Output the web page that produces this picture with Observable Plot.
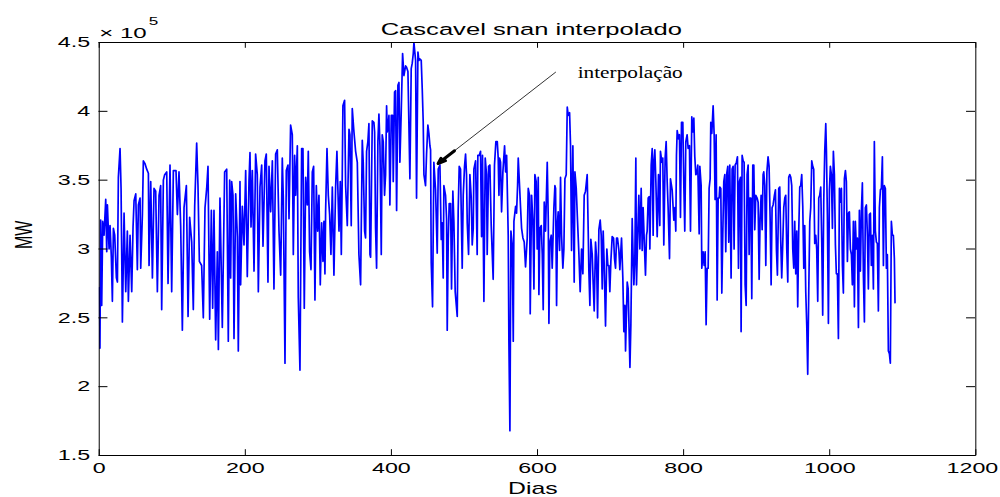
<!DOCTYPE html>
<html><head><meta charset="utf-8">
<script src="https://cdn.jsdelivr.net/npm/d3@7"></script>
<script src="https://cdn.jsdelivr.net/npm/@observablehq/plot@0.6"></script>
<style>
html,body{margin:0;padding:0;background:#fff;}
#chart svg path, #chart svg line, #chart svg rect { vector-effect: non-scaling-stroke; }
</style></head><body><div id="chart"></div>
<script>
const titulo = "Cascavel snan interpolado";
const rotuloX = "Dias";
const rotuloY = "MW";
const expoente = ["× 10", "5"];
const xTicks = [0, 200, 400, 600, 800, 1000, 1200];
const yTicks = [1.5, 2, 2.5, 3, 3.5, 4, 4.5];

// [dia, MW x 10^5]
const trecho1 = [[0.5,2.72],[1,2.28],[2,3.21],[3.4,2.59],[4.8,3.20],[6.6,3.10],[8.9,3.36],[10.3,2.98],[11.2,3.32],[13.5,3.00],[14.8,3.17],[16.6,2.94],[18.0,2.62],[19.4,3.15],[21.2,3.10],[23.5,2.79],[24.9,2.76],[26.2,3.52],[28.5,3.73],[29.9,3.44],[31.7,2.47],[34.0,3.26],[36.3,2.69],[38.5,3.13],[39.9,2.62],[42.2,3.10],[44.5,2.69],[46.3,3.16],[47.7,3.35],[50.0,3.40],[52.2,2.85],[53.6,3.32],[55.9,3.37],[56.8,2.86],[59.1,3.25],[60.4,3.64],[62.7,3.62],[65.0,3.58],[67.3,3.55],[68.2,2.88],[70.5,3.49],[72.8,2.79],[75.0,3.44],[77.3,3.42],[79.6,2.69],[81.9,3.39],[84.1,3.46],[85.5,2.56],[87.8,3.50],[89.6,3.54],[92.4,3.56],[94.2,2.75],[96.9,3.61],[99.2,2.69],[101.5,3.57],[105.1,3.57],[107.0,3.25],[109.2,3.56],[111.5,3.17],[113.8,2.41],[116.1,3.30],[119.3,3.46],[121.6,2.51],[123.8,3.23],[126.6,3.05],[128.8,2.56],[130.7,3.31],[133.4,3.77],[135.2,3.46],[137.1,2.91],[140.2,2.88],[142.5,2.50],[144.8,3.30],[147.1,3.44],[148.9,3.60],[151.2,2.49],[153.5,3.28],[155.3,2.57],[157.1,3.28],[159.4,2.34],[161.7,2.98],[163.1,2.27],[165.3,3.37],[168.5,2.43],[171.7,3.56],[174.5,3.58]];
const trecho2 = [[176.7,2.33],[178.6,3.50],[179.9,2.79],[181.3,3.49],[183.1,3.39],[184.5,2.35],[186.8,3.40],[189.1,3.09],[190.4,2.26],[192.7,3.49],[193.6,2.74],[195.9,3.31],[198.2,3.03],[200.5,3.57],[202.7,2.80],[205.0,3.49],[206.4,3.70],[207.8,3.16],[209.6,3.57],[211.9,2.84],[214.1,3.69],[216.4,3.54],[217.8,2.69],[220.1,3.45],[222.4,3.61],[224.2,3.02],[226.9,3.64],[228.7,3.69],[231.0,2.76],[232.4,3.60],[234.7,3.27],[237.0,3.64],[239.2,2.71],[241.5,3.69],[243.8,3.72],[246.1,3.13],[248.4,2.81],[250.6,3.66],[252.0,3.37],[254.3,2.17],[256.1,3.57],[258.4,3.61],[259.8,3.22],[262.0,3.90],[264.3,3.83],[265.7,2.96],[267.5,3.68],[268.9,3.39],[271.2,3.75],[272.5,2.65],[274.8,2.12],[277.1,3.73],[278.9,3.73],[280.7,2.57],[282.6,3.52],[284.8,3.32],[286.2,3.71],[288.0,2.98],[289.9,2.85],[291.7,3.56],[293.5,3.60],[295.3,2.63],[297.2,3.46],[299.0,3.13],[300.8,3.39],[302.6,2.74],[304.5,3.19],[306.3,2.91],[307.6,3.20],[309.0,2.82],[309.9,3.27],[311.8,3.73],[313.6,3.39],[315.4,3.25],[317.2,2.96],[319.1,3.45],[321.3,2.81],[323.6,3.45],[325.4,3.71],[328.2,3.13],[330.0,3.49],[331.4,2.96],[332.7,3.54],[333.6,4.04],[335.9,4.08],[337.3,3.46],[339.6,3.17],[341.9,3.87],[343.2,3.83],[345.0,3.17],[346.4,4.02],[348.7,3.85],[351.0,3.71],[353.3,3.63],[355.5,2.96],[357.8,2.74]];
const trecho3 = [[360.1,3.79],[361.4,3.63],[363.3,3.13],[364.6,3.08],[366.0,3.71],[367.8,3.78],[369.2,3.91],[370.6,2.96],[371.5,2.94],[373.8,3.93],[376.0,3.92],[377.0,3.85],[378.3,3.15],[379.7,2.86],[381.5,3.78],[382.9,3.98],[384.3,3.75],[386.1,2.96],[387.4,3.83],[388.8,3.78],[390.6,3.39],[392.0,3.54],[393.4,4.04],[394.3,3.85],[395.7,3.90],[396.6,3.97],[397.9,3.32],[399.8,3.97],[401.6,3.97],[402.5,3.49],[404.3,4.14],[405.7,4.15],[407.1,3.28],[408.9,4.19],[410.3,4.21],[411.6,3.63],[413.4,3.99],[415.3,4.42],[417.1,4.26],[419.4,4.33],[420.7,4.32],[422.6,4.29],[425.3,3.51],[427.1,4.31],[428.5,4.35],[429.9,4.42],[430.8,4.50],[433.1,4.37],[434.4,3.37],[436.3,4.43],[437.6,4.37],[439.0,4.38],[440.8,4.37],[442.2,4.16],[443.5,3.93],[444.5,3.54],[446.7,3.46],[448.1,3.69],[449.9,3.90],[451.3,3.84],[452.7,3.75],[453.6,3.72],[454.5,2.90],[456.3,2.58],[458.1,3.63],[460.4,3.43],[462.7,2.97],[464.1,3.58],[466.4,3.61],[468.2,3.07],[469.5,3.19],[470.9,2.79],[471.8,3.46],[474.1,3.39],[475.5,3.22],[476.4,2.41],[477.8,3.07],[479.1,3.33],[481.0,3.33],[482.3,2.71],[484.1,3.42],[485.5,3.20],[487.3,2.69],[490.1,2.51],[491.4,3.28],[492.8,3.60],[494.6,3.58],[496.9,2.86],[498.3,3.39],[500.1,3.60],[501.5,3.69],[502.8,3.54],[503.8,3.19],[505.6,2.96],[507.4,3.54],[509.2,3.38],[510.6,3.03],[512.0,3.15],[512.9,3.58],[515.2,3.64],[517.4,2.96],[518.3,3.68],[520.2,3.68],[522.0,3.71],[523.4,3.09],[524.7,3.68],[526.6,2.62],[528.4,3.66],[530.2,3.54],[531.1,2.96],[533.0,3.60],[534.8,3.61],[536.6,3.17],[539.3,2.78],[541.1,3.61],[543.0,3.78]];
const trecho4 = [[544.9,3.78],[546.2,3.66],[547.2,3.39],[548.1,3.66],[549.4,3.63],[550.8,3.27],[552.6,3.56],[554.9,3.75],[556.3,3.56],[557.7,3.68],[559.9,3.10],[560.8,2.34],[562.2,1.68],[563.6,3.13],[565.4,3.03],[566.8,2.33],[567.7,3.20],[570.0,3.31],[571.3,3.26],[572.7,3.46],[573.6,3.66],[575.4,3.46],[576.8,3.30],[578.2,3.15],[580.0,3.08],[581.8,3.05],[583.6,2.87],[585.9,3.08],[587.3,3.44],[589.1,3.39],[590.0,2.53],[591.9,3.39],[593.7,3.20],[595.1,2.71],[596.4,3.54],[598.2,3.49],[599.6,3.00],[601.0,3.52],[601.9,2.67],[603.3,3.15],[605.1,3.17],[606.5,2.96],[607.8,2.56],[609.2,3.34],[611.0,3.13],[613.3,3.63],[614.7,3.22],[615.6,2.46],[616.9,3.05],[618.8,3.10],[620.1,2.86],[622.4,3.30],[623.8,3.46],[624.7,3.44],[626.1,2.59],[627.4,3.20],[628.3,3.27],[630.2,2.99],[631.5,3.52],[632.9,3.10],[634.7,2.86],[636.1,3.00],[637.5,3.51],[639.3,3.54],[640.7,4.03],[642.0,3.97],[643.9,3.99],[645.2,3.75],[646.6,2.99],[648.4,3.75],[650.2,2.76],[651.2,3.56],[653.0,3.44],[654.8,3.20],[656.6,2.97],[658.4,2.69],[660.3,3.00],[662.1,2.82],[663.9,3.39],[665.7,3.42],[668.0,3.54],[669.4,3.13],[670.3,2.84],[671.7,2.59],[673.0,3.07],[674.9,2.96],[676.2,2.75],[677.6,2.55],[679.4,3.05],[680.8,2.94],[682.2,2.50],[684.0,3.14],[685.8,3.21],[687.2,3.10],[688.6,2.71],[689.9,3.13],[691.3,2.88],[693.1,2.44],[694.9,3.00],[696.3,2.88],[697.7,2.88],[699.0,2.69],[700.4,2.91],[702.2,3.09],[704.1,3.08],[705.4,2.93],[706.8,2.86],[708.2,3.08],[709.5,3.08],[711.4,2.99],[712.7,2.85],[715.0,3.08],[716.8,2.79],[718.2,2.40],[719.6,2.59],[720.5,2.26],[722.8,2.76],[724.1,2.71]];
const trecho5 = [[726.5,2.14],[727.8,2.45],[729.6,3.22],[731.0,2.91],[731.9,2.74],[733.2,2.91],[734.6,3.66],[735.5,2.74],[737.3,3.13],[738.7,3.39],[740.1,3.00],[741.9,3.44],[743.3,2.99],[744.6,3.30],[746.5,3.00],[747.8,2.81],[749.2,3.10],[750.1,3.13],[751.5,3.37],[752.8,3.38],[753.8,3.00],[755.6,3.61],[757.0,3.73],[758.3,3.10],[759.2,3.63],[760.6,3.72],[762.0,3.49],[763.8,3.09],[765.6,3.54],[767.4,3.17],[768.3,3.71],[770.2,3.63],[771.5,3.66],[772.9,3.03],[774.7,3.66],[776.1,3.78],[777.5,3.49],[778.8,3.30],[780.7,2.93],[782.0,3.51],[784.3,3.43],[786.6,3.21],[788.0,3.30],[789.3,3.13],[790.2,3.68],[791.2,3.86],[793.0,3.80],[794.3,3.83],[795.7,3.23],[797.1,3.92],[798.9,3.92],[800.3,3.46],[801.6,3.13],[803.0,3.78],[804.8,3.83],[806.2,3.73],[808.0,3.75],[809.4,3.13],[811.2,3.96],[812.6,3.85],[814.0,3.95],[815.3,3.67],[816.7,3.54],[818.1,3.55],[819.4,3.61],[821.3,3.11],[822.2,3.60],[824.0,3.46],[824.9,2.86],[826.7,2.98],[828.1,2.88],[829.5,2.98],[830.8,2.45],[832.2,2.86],[833.6,2.86],[834.9,3.44],[836.3,3.51],[837.2,3.92],[838.6,3.84],[840.4,4.04],[841.8,3.83],[843.1,3.36],[844.5,3.83],[845.9,2.63],[847.3,3.37],[848.6,3.37],[849.5,3.45],[850.9,3.44],[852.3,2.68],[853.6,3.10],[855.0,3.49],[856.4,3.54],[857.7,2.98],[859.1,3.55],[860.5,3.60],[861.8,3.05],[863.2,3.61],[865.0,2.79],[866.4,3.58],[867.8,3.60],[869.1,3.00],[870.5,3.61],[872.3,3.63],[873.7,3.67],[875.1,2.86],[876.4,3.49],[877.8,3.52],[878.7,2.40],[880.1,3.68],[881.5,3.64],[882.8,3.63],[884.2,2.74],[885.6,2.59],[886.9,3.54],[888.3,3.61],[889.7,2.96],[890.6,3.37],[892.0,3.37],[893.3,2.64],[894.7,3.61],[896.1,3.61],[897.4,3.14],[898.8,3.39],[900.6,3.37],[902.0,3.34],[903.4,2.78],[904.7,3.22],[906.1,3.39],[907.5,3.14],[908.8,3.54],[909.7,3.56],[911.1,3.46],[912.5,2.88],[914.0,3.56],[915.6,3.67]];
const trecho6 = [[917.0,3.60],[918.4,3.23],[919.8,2.74],[921.1,3.30],[922.5,3.32],[924.3,3.39],[925.7,3.43],[927.1,2.99],[928.4,2.81],[930.2,3.44],[931.6,3.45],[933.0,3.05],[934.3,2.79],[935.7,3.04],[937.1,3.30],[938.5,3.37],[939.8,3.39],[941.2,3.00],[942.6,2.76],[943.9,3.52],[945.3,3.54],[946.7,3.52],[948.0,3.46],[949.4,3.00],[950.8,2.86],[952.1,3.20],[953.5,2.82],[954.9,3.13],[956.2,2.58],[957.6,3.13],[959.0,3.45],[960.3,3.46],[961.7,3.54],[963.1,3.31],[964.5,2.86],[965.8,3.17],[967.2,2.69],[968.6,2.44],[969.9,2.09],[971.3,2.69],[972.7,3.20],[974.0,3.30],[975.4,3.64],[976.8,3.60],[978.1,3.58],[979.5,3.04],[980.9,3.10],[982.2,3.00],[983.6,2.62],[985.0,3.37],[986.3,3.39],[987.7,3.45],[989.1,3.05],[990.4,2.52],[991.8,3.34],[993.2,3.71],[994.6,3.91],[995.5,3.71],[996.8,3.25],[998.2,2.46],[999.6,3.43],[1000.9,3.60],[1002.3,3.54],[1003.7,3.15],[1005.0,3.71],[1006.4,3.54],[1007.8,3.03],[1009.1,2.82],[1010.5,2.82],[1011.9,2.35],[1013.3,3.44],[1014.6,3.34],[1016.0,3.44],[1017.4,2.88],[1018.7,2.68],[1020.1,3.51],[1021.5,3.57],[1022.8,3.49],[1024.2,2.91],[1025.6,3.26],[1026.9,3.27],[1028.3,3.00],[1029.7,2.96],[1031.0,2.74],[1032.4,3.20],[1033.8,2.58],[1035.1,3.20],[1036.5,3.00],[1037.9,3.08],[1039.3,2.43],[1040.6,3.28],[1042.0,2.84],[1043.4,3.28],[1044.7,3.48],[1046.1,2.81],[1047.5,2.47],[1048.8,3.30],[1050.2,3.32],[1051.6,3.10],[1052.9,2.71],[1054.3,3.25],[1055.7,3.26],[1057.0,2.88],[1058.4,3.10],[1059.8,2.71],[1061.1,3.78],[1062.5,3.13],[1063.9,3.05],[1065.2,3.04],[1066.6,2.55],[1068.0,3.30],[1069.4,3.43],[1070.7,3.44],[1072.1,3.67],[1073.5,2.88],[1074.8,3.46],[1076.2,3.44],[1077.6,2.86],[1078.9,2.96],[1080.3,2.26],[1081.7,2.24],[1083.0,2.17],[1084.4,3.20],[1085.8,3.10],[1087.1,3.10],[1088.5,2.93],[1089.4,2.61]];

const anotacao = {texto: "interpolação", x: 655, y: 4.283, de: [624.7, 4.284], para: [463.9, 3.621]};

const serie = [...trecho1, ...trecho2, ...trecho3, ...trecho4, ...trecho5, ...trecho6].map(([dia, mw]) => ({dia, mw}));

// layout (the figure is stretched horizontally like the reference)
const W = 645, H = 497, K = 1000 / W;
const mL = 63.5, mR = 16.1, mT = 42, mB = 42;
const tickLen = 5.8;
const innerW = W - mL - mR, innerH = H - mT - mB;

const seta = [{x1: anotacao.de[0], y1: anotacao.de[1], x2: anotacao.para[0], y2: anotacao.para[1]}];
const cabeca = [{
  x1: anotacao.para[0] + 0.14 * (anotacao.de[0] - anotacao.para[0]),
  y1: anotacao.para[1] + 0.14 * (anotacao.de[1] - anotacao.para[1]),
  x2: anotacao.para[0], y2: anotacao.para[1]
}];

const chart = Plot.plot({
  width: W, height: H,
  marginLeft: mL, marginRight: mR, marginTop: mT, marginBottom: mB,
  style: {fontFamily: "'Liberation Sans', Arial, sans-serif", fontSize: "15px", color: "#000", background: "#fff"},
  x: {domain: [0, 1200], axis: null},
  y: {domain: [1.5, 4.5], axis: null},
  marks: [
    Plot.line(serie, {x: "dia", y: "mw", stroke: "#0000ff", strokeWidth: 1.7, clip: true}),
    Plot.frame({stroke: "#000", strokeWidth: 1}),
    Plot.tickY(yTicks, {y: d => d, insetRight: innerW - tickLen, stroke: "#000"}),
    Plot.tickY(yTicks, {y: d => d, insetLeft: innerW - tickLen, stroke: "#000"}),
    Plot.tickX(xTicks, {x: d => d, insetTop: innerH - tickLen, stroke: "#000"}),
    Plot.tickX(xTicks, {x: d => d, insetBottom: innerH - tickLen, stroke: "#000"}),
    Plot.axisX({ticks: xTicks, tickSize: 0, tickPadding: 6.7, label: null, tickFormat: d => String(d)}),
    Plot.axisY({ticks: yTicks, tickSize: 0, tickPadding: 5.9, label: null, tickFormat: d => String(d)}),
    Plot.text([titulo], {frameAnchor: "top", dy: -19, dx: -4, fontSize: 16.5}),
    Plot.text([rotuloX], {frameAnchor: "bottom", dy: 38, dx: -3, fontSize: 16}),
    Plot.text([rotuloY], {frameAnchor: "left", dx: -48.7, rotate: -90, fontSize: 16}),
    Plot.text([expoente[0]], {frameAnchor: "top-left", textAnchor: "start", dy: -15.5, fontSize: 15.5}),
    Plot.text([expoente[1]], {frameAnchor: "top-left", textAnchor: "start", dx: 32, dy: -25, fontSize: 11}),
    Plot.arrow(seta, {x1: "x1", y1: "y1", x2: "x2", y2: "y2", stroke: "#333", strokeWidth: 1, headLength: 0}),
    Plot.arrow(cabeca, {x1: "x1", y1: "y1", x2: "x2", y2: "y2", stroke: "#000", strokeWidth: 3, headLength: 13, headAngle: 40}),
    Plot.text([anotacao], {x: "x", y: "y", text: "texto", textAnchor: "start", fontFamily: "'Liberation Serif', 'Times New Roman', serif", fontSize: 17})
  ]
});

chart.setAttribute("preserveAspectRatio", "none");
chart.setAttribute("width", 1000);
chart.style.width = "1000px";
chart.style.height = "497px";
chart.style.maxWidth = "none";
document.getElementById("chart").appendChild(chart);

d3.select(chart).selectAll("text")
  .filter(function () { return this.textContent === anotacao.texto; })
  .attr("textLength", 105 / K)
  .attr("lengthAdjust", "spacingAndGlyphs");

// keep the last x tick label inside the picture, as in the reference
d3.select(chart).selectAll("text")
  .filter(function () { return this.textContent === String(xTicks[xTicks.length - 1]); })
  .attr("dx", -2.2);
</script>
</body></html>
